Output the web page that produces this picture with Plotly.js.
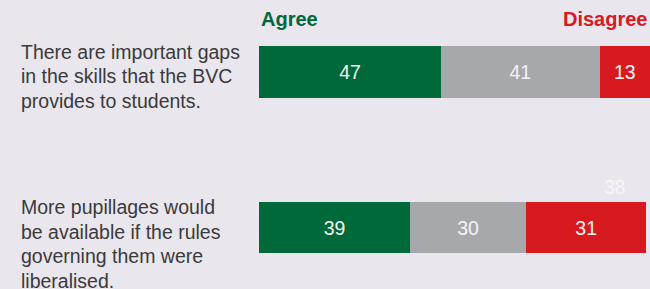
<!DOCTYPE html>
<html>
<head>
<meta charset="utf-8">
<script src="https://cdn.plot.ly/plotly-3.0.1.min.js"></script>
<style>html,body{margin:0;padding:0;background:#e9e6ee;}#chart{width:650px;height:289px;}</style>
</head>
<body>
<div id="chart"></div>
<script>
const statements = [
  ["There are important gaps", "in the skills that the BVC", "provides to students."],
  ["More pupillages would", "be available if the rules", "governing them were", "liberalised."]
];
const categories = ["q1", "q2"];
const agree = [47, 39];
const neutral = [41, 30];
const disagree = [13, 31];
const seriesNames = ["Agree", "Neither", "Disagree"];
const strayLabel = {text: "38", x: 92, y: 0.74};

const colors = ["#00693a", "#a7a8ab", "#d71920"];
const vals = [agree, neutral, disagree];
const font = "Liberation Sans, Arial, sans-serif";
const traces = vals.map((v, i) => ({
  type: "bar",
  orientation: "h",
  name: seriesNames[i],
  y: categories,
  x: v,
  width: 0.334,
  marker: {color: colors[i], line: {width: 0}},
  text: v.map(String),
  textposition: "inside",
  insidetextanchor: "middle",
  textfont: {color: "#f4f4f4", size: 19.5, family: font},
  hoverinfo: "none"
}));

const pxPerUnit = 155.5;
const annotations = [];
statements.forEach((lines, i) => {
  lines.forEach((line, k) => {
    annotations.push({
      xref: "paper", yref: "y",
      x: -0.6087, y: i + (-20.5 + k * 24.5) / pxPerUnit,
      xanchor: "left", yanchor: "middle", xshift: -2,
      align: "left", showarrow: false,
      text: line,
      font: {size: 19.5, color: "#3a3a3a", family: font}
    });
  });
});
annotations.push({
  xref: "paper", yref: "paper", x: 0.0, y: 1.0, xanchor: "left", yanchor: "top", yshift: -6,
  showarrow: false, text: "<b>Agree</b>", font: {size: 20, color: colors[0], family: font}
});
annotations.push({
  xref: "paper", yref: "paper", x: 1.0, y: 1.0, xanchor: "right", yanchor: "top", yshift: -6,
  showarrow: false, text: "<b>Disagree</b>", font: {size: 20, color: colors[2], family: font}
});
annotations.push({
  xref: "x", yref: "y", x: strayLabel.x, y: strayLabel.y, xanchor: "center", yanchor: "middle",
  showarrow: false, text: strayLabel.text, font: {size: 19.5, color: "#f6f5f8", family: font}
});

const layout = {
  width: 650, height: 289,
  margin: {l: 259, r: 0, t: 0, b: 0, pad: 0},
  paper_bgcolor: "#e9e6ee", plot_bgcolor: "#e9e6ee",
  barmode: "stack",
  showlegend: false,
  xaxis: {range: [0, 101], visible: false, fixedrange: true},
  yaxis: {type: "category", categoryarray: categories, range: [1.3955, -0.463], visible: false, fixedrange: true},
  annotations: annotations,
  uniformtext: {mode: false}
};
Plotly.newPlot("chart", traces, layout, {displayModeBar: false, staticPlot: true});
</script>
</body>
</html>
